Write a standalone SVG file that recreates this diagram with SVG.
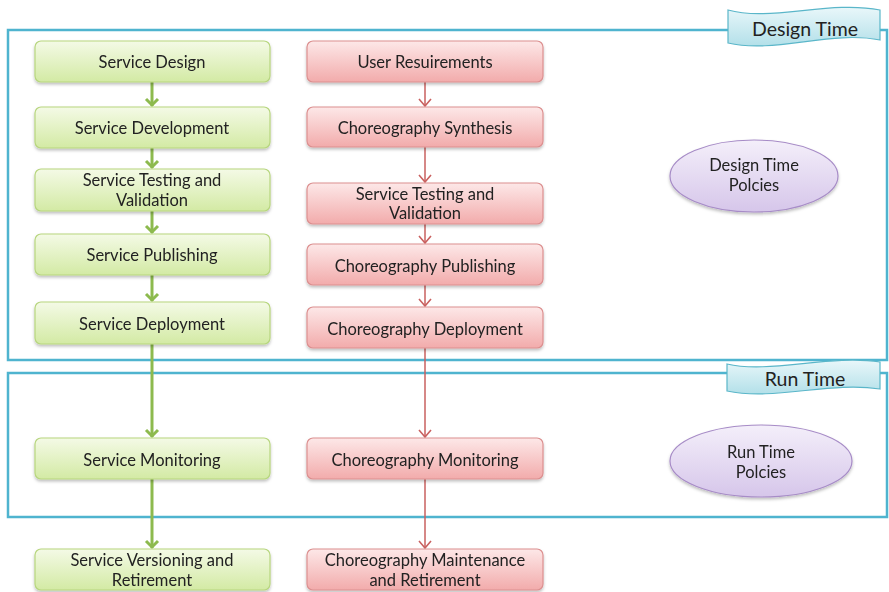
<svg xmlns="http://www.w3.org/2000/svg" width="889" height="592" viewBox="0 0 889 592">
<style>
text{font-family:Lato,"Liberation Sans",sans-serif;font-size:16.5px;fill:#222;text-anchor:middle}
.frame{fill:none;stroke:#4fb4cf;stroke-width:2.5}
.g{fill:url(#gg);stroke:#b7d67e;stroke-width:1.2}
.r{fill:url(#rg);stroke:#dc8f8f;stroke-width:1.2}
.e{fill:url(#eg);stroke:#a78cc7;stroke-width:1.2}
.b{fill:url(#bg);stroke:#5ab6c9;stroke-width:1.2}
.gl{fill:none;stroke:#8dba4e;stroke-width:3;marker-end:url(#ga)}
.rl{fill:none;stroke:#c9605f;stroke-width:1.5;marker-end:url(#ra)}
.big{font-size:19.5px}
</style>
<defs>
<linearGradient id="gg" x1="0" y1="0" x2="0" y2="1"><stop offset="0" stop-color="#f4fae6"/><stop offset="1" stop-color="#d3eaa4"/></linearGradient>
<linearGradient id="rg" x1="0" y1="0" x2="0" y2="1"><stop offset="0" stop-color="#fde8e8"/><stop offset="1" stop-color="#f2abab"/></linearGradient>
<linearGradient id="eg" x1="0" y1="0" x2="0" y2="1"><stop offset="0" stop-color="#f4effa"/><stop offset="1" stop-color="#d6c6ea"/></linearGradient>
<linearGradient id="bg" x1="0" y1="0" x2="0" y2="1"><stop offset="0" stop-color="#e9f7fa"/><stop offset="1" stop-color="#b3e0e9"/></linearGradient>
<filter id="sh" x="-10%" y="-20%" width="120%" height="150%"><feDropShadow dx="0" dy="2" stdDeviation="1.5" flood-color="#000" flood-opacity="0.25"/></filter>
<marker id="ga" markerUnits="userSpaceOnUse" viewBox="-10 -10 20 20" markerWidth="20" markerHeight="20" refX="0" refY="0" orient="auto"><path d="M-7,-6 L-1,0 L-7,6" fill="none" stroke="#8dba4e" stroke-width="3"/></marker>
<marker id="ra" markerUnits="userSpaceOnUse" viewBox="-10 -10 20 20" markerWidth="20" markerHeight="20" refX="0" refY="0" orient="auto"><path d="M-7,-6 L0,0 L-7,6" fill="none" stroke="#c9605f" stroke-width="1.6"/></marker>
</defs>
<g id="design-time-frame"><rect class="frame" x="8" y="30" width="879" height="330"/></g>
<g id="run-time-frame"><rect class="frame" x="8" y="373" width="879" height="144"/></g>
<g id="connectors">
<path class="gl" d="M152,82 V106"/>
<path class="gl" d="M152,148 V168"/>
<path class="gl" d="M152,211 V233"/>
<path class="gl" d="M152,275 V301"/>
<path class="gl" d="M152,344 V437"/>
<path class="gl" d="M152,479 V548"/>
<path class="rl" d="M425,82 V106"/>
<path class="rl" d="M425,147 V182"/>
<path class="rl" d="M425,224 V243"/>
<path class="rl" d="M425,285 V306"/>
<path class="rl" d="M425,348 V437"/>
<path class="rl" d="M425,479 V548"/>
</g>
<g id="design-time-banner"><path class="b" d="M728,10 C770,22 830,0 880,10 L880,40 C830,30 775,54 728,43 Z"/><text class="big" x="805" y="36">Design Time</text></g>
<g id="run-time-banner"><path class="b" d="M727,364 C770,374 830,354 880,362 L880,389 C830,381 775,401 727,391 Z"/><text class="big" x="805" y="386">Run Time</text></g>
<g id="service-design" filter="url(#sh)"><rect class="g" x="35" y="41" width="235" height="41" rx="6"/><text x="152" y="68">Service Design</text></g>
<g id="service-development" filter="url(#sh)"><rect class="g" x="35" y="107" width="235" height="41" rx="6"/><text x="152" y="134">Service Development</text></g>
<g id="service-testing" filter="url(#sh)"><rect class="g" x="35" y="169" width="235" height="42" rx="6"/><text x="152" y="186">Service Testing and</text><text x="152" y="206">Validation</text></g>
<g id="service-publishing" filter="url(#sh)"><rect class="g" x="35" y="234" width="235" height="41" rx="6"/><text x="152" y="261">Service Publishing</text></g>
<g id="service-deployment" filter="url(#sh)"><rect class="g" x="35" y="302" width="235" height="42" rx="6"/><text x="152" y="330">Service Deployment</text></g>
<g id="service-monitoring" filter="url(#sh)"><rect class="g" x="35" y="438" width="235" height="41" rx="6"/><text x="152" y="466">Service Monitoring</text></g>
<g id="service-versioning" filter="url(#sh)"><rect class="g" x="35" y="549" width="235" height="41" rx="6"/><text x="152" y="566">Service Versioning and</text><text x="152" y="586">Retirement</text></g>
<g id="user-requirements" filter="url(#sh)"><rect class="r" x="307" y="41" width="236" height="41" rx="6"/><text x="425" y="68">User Resuirements</text></g>
<g id="choreography-synthesis" filter="url(#sh)"><rect class="r" x="307" y="107" width="236" height="40" rx="6"/><text x="425" y="134">Choreography Synthesis</text></g>
<g id="red-service-testing" filter="url(#sh)"><rect class="r" x="307" y="183" width="236" height="41" rx="6"/><text x="425" y="200">Service Testing and</text><text x="425" y="219">Validation</text></g>
<g id="choreography-publishing" filter="url(#sh)"><rect class="r" x="307" y="244" width="236" height="41" rx="6"/><text x="425" y="272">Choreography Publishing</text></g>
<g id="choreography-deployment" filter="url(#sh)"><rect class="r" x="307" y="307" width="236" height="41" rx="6"/><text x="425" y="335">Choreography Deployment</text></g>
<g id="choreography-monitoring" filter="url(#sh)"><rect class="r" x="307" y="438" width="236" height="41" rx="6"/><text x="425" y="466">Choreography Monitoring</text></g>
<g id="choreography-maintenance" filter="url(#sh)"><rect class="r" x="307" y="549" width="236" height="41" rx="6"/><text x="425" y="566">Choreography Maintenance</text><text x="425" y="586">and Retirement</text></g>
<g id="design-time-policies" filter="url(#sh)"><ellipse class="e" cx="754" cy="176" rx="84" ry="36"/><text x="754" y="171">Design Time</text><text x="754" y="191">Polcies</text></g>
<g id="run-time-policies" filter="url(#sh)"><ellipse class="e" cx="761" cy="461" rx="91" ry="36"/><text x="761" y="458">Run Time</text><text x="761" y="478">Polcies</text></g>
</svg>
